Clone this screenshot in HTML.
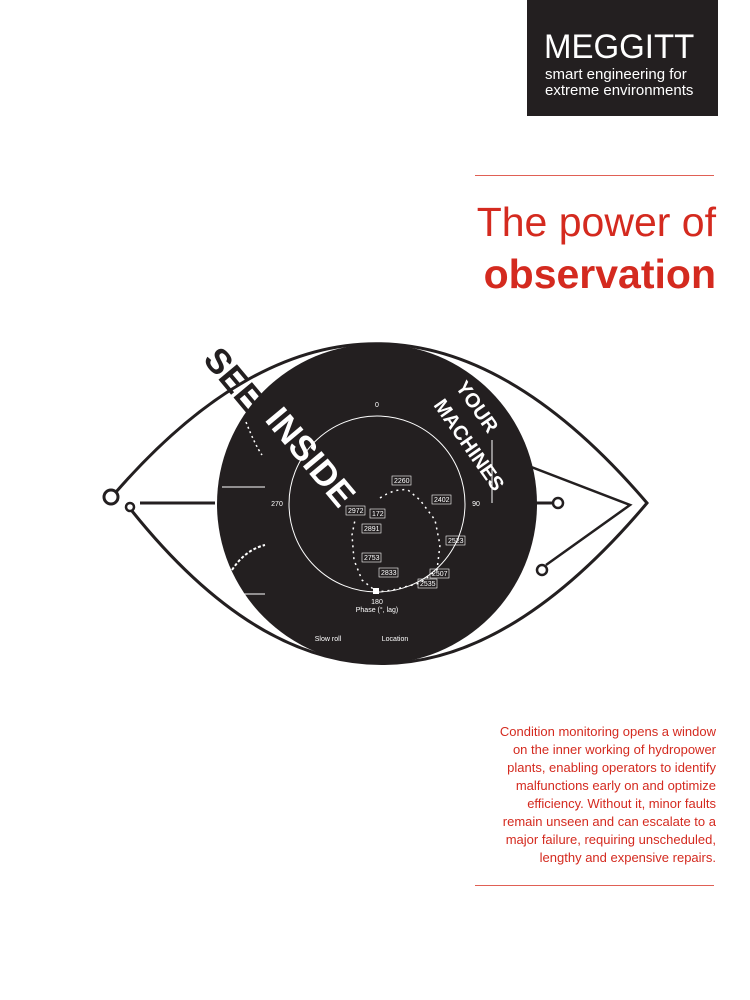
<!DOCTYPE html>
<html><head><meta charset="utf-8"><style>
body{margin:0;width:750px;height:1000px;background:#fff;position:relative;overflow:hidden;font-family:"Liberation Sans",sans-serif}
.logo{position:absolute;left:527px;top:0;width:191px;height:116px;background:#231f20;color:#fff}
.t{position:absolute;right:34px;text-align:right;color:#d42a1f}
.rule{position:absolute;left:475px;width:239px;height:1px;background:#e06055}
</style></head><body>
<div class="logo">
<div style="position:absolute;left:17px;top:29px;font-size:34px;letter-spacing:0px;line-height:36px;transform:scaleX(0.97);transform-origin:left">MEGGITT</div>
<div style="position:absolute;left:18px;top:67px;font-size:15px;line-height:16px;white-space:nowrap">smart engineering for<br>extreme environments</div>
</div>
<div class="rule" style="top:175px"></div>
<div class="t" style="top:198px;font-size:41px;line-height:48px">The power of</div>
<div class="t" style="top:250px;font-size:41px;font-weight:bold;line-height:48px">observation</div>
<svg width="750" height="1000" style="position:absolute;left:0;top:0">
<g fill="none" stroke="#231f20" stroke-width="3">
<path d="M116 492 Q380 190 647 503 Q380 820 132 511"/>
<circle cx="111" cy="497" r="7"/>
<circle cx="130" cy="507" r="4" stroke-width="2.5"/>
<line x1="140" y1="503" x2="215" y2="503"/>
<path d="M520 445 Q500 440 500 455 L630 505 L546 565" stroke-width="2.5"/>
<line x1="530" y1="503" x2="553" y2="503"/>
<circle cx="558" cy="503" r="5" stroke-width="2.5"/>
<circle cx="542" cy="570" r="5" stroke-width="2.5"/>
</g>
<circle cx="377" cy="504" r="160" fill="#231f20"/>
<g fill="none" stroke="#fff" stroke-width="1">
<circle cx="377" cy="504" r="88"/>
<line x1="222" y1="487" x2="265" y2="487"/><line x1="222" y1="594" x2="265" y2="594"/>
<path d="M232 570 Q245 550 265 545" stroke-width="2" stroke-dasharray="3 2"/>
<path d="M246 422 Q255 445 262 455" stroke-width="1.5" stroke-dasharray="2 3"/>
<path d="M380 498 Q395 488 408 490 L420 500 L435 520 L440 545 L437 570 L420 583 L393 590 L377 592 L362 580 L354 560 L352 535 L355 520" stroke-dasharray="2 4" stroke-width="1.5"/>
<line x1="492" y1="440" x2="492" y2="503"/>
</g>
<g font-size="7" fill="#fff" text-anchor="middle">
<text x="377" y="407">0</text><text x="277" y="506">270</text><text x="476" y="506">90</text>
<text x="377" y="604">180</text><text x="377" y="612">Phase (°, lag)</text>
<text x="328" y="641">Slow roll</text><text x="395" y="641">Location</text>
</g>
<g font-size="7" fill="#fff" stroke="#fff" stroke-width=".6">
<g fill="none"><rect x="392" y="476" width="19" height="9"/><rect x="432" y="495" width="19" height="9"/><rect x="346" y="506" width="19" height="9"/><rect x="370" y="509" width="15" height="9"/><rect x="362" y="524" width="19" height="9"/><rect x="446" y="536" width="19" height="9"/><rect x="362" y="553" width="19" height="9"/><rect x="379" y="568" width="19" height="9"/><rect x="430" y="569" width="19" height="9"/><rect x="418" y="579" width="19" height="9"/></g>
<g stroke="none" font-size="7"><text x="394" y="483">2260</text><text x="434" y="502">2402</text><text x="348" y="513">2972</text><text x="372" y="516">172</text><text x="364" y="531">2891</text><text x="448" y="543">2523</text><text x="364" y="560">2753</text><text x="381" y="575">2833</text><text x="432" y="576">2507</text><text x="420" y="586">2535</text></g>
</g>
<rect x="373" y="588" width="6" height="6" fill="#fff"/>
<text transform="translate(202,360) rotate(50)" font-size="35" font-weight="bold" fill="#231f20" font-family="Liberation Sans">SEE</text>
<text transform="translate(264,420) rotate(50)" font-size="35" font-weight="bold" fill="#fff" font-family="Liberation Sans">INSIDE</text>
<text transform="translate(455,387) rotate(55)" font-size="20" font-weight="bold" fill="#fff" font-family="Liberation Sans">YOUR</text>
<text transform="translate(433,405) rotate(55)" font-size="20" font-weight="bold" fill="#fff" font-family="Liberation Sans">MACHINES</text>
</svg>
<div class="t" style="top:723px;font-size:13px;line-height:18px;white-space:nowrap">Condition monitoring opens a window<br>on the inner working of hydropower<br>plants, enabling operators to identify<br>malfunctions early on and optimize<br>efficiency. Without it, minor faults<br>remain unseen and can escalate to a<br>major failure, requiring unscheduled,<br>lengthy and expensive repairs.</div>
<div class="rule" style="top:885px"></div>
</body></html>
